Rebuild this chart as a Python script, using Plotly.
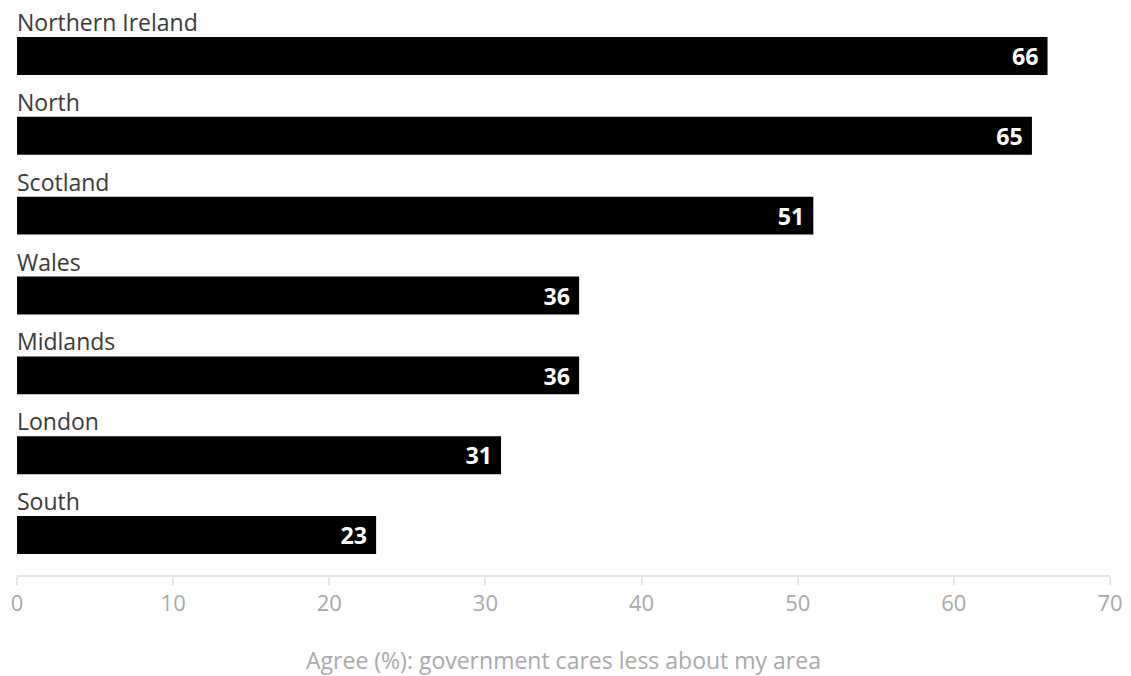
import plotly.graph_objects as go

regions = ["Northern Ireland", "North", "Scotland", "Wales", "Midlands", "London", "South"]
values = [66, 65, 51, 36, 36, 31, 23]
tick_vals = [0, 10, 20, 30, 40, 50, 60, 70]
axis_title = "Agree (%): government cares less about my area"

FONT = "Open Sans, sans-serif"

fig = go.Figure()
fig.add_trace(go.Bar(
    x=values, y=regions, orientation="h",
    marker=dict(color="#000000", line=dict(width=0)),
    width=0.475,
    text=[str(v) + "\u00a0" for v in values],
    textposition="inside", insidetextanchor="end",
    textfont=dict(color="white", size=24, family=FONT, weight="bold"),
    textangle=0,
    hoverinfo="skip",
))

for r in regions:
    fig.add_annotation(x=0, y=r, xref="x", yref="y", text=r, showarrow=False,
                       xanchor="left", yanchor="middle", yshift=34, xshift=-2,
                       font=dict(size=23, color="#3a3a3a", family=FONT))

fig.update_layout(
    width=1131, height=676,
    margin=dict(l=17, r=21, t=16, b=101),
    paper_bgcolor="white", plot_bgcolor="white",
    showlegend=False,
    uniformtext=dict(mode=None),
    xaxis=dict(range=[0, 70], tickvals=tick_vals, showgrid=False, zeroline=False,
               automargin=False,
               showline=True, linecolor="#e6e6e6", linewidth=2,
               ticks="outside", ticklen=8, tickcolor="#e6e6e6", tickwidth=2,
               tickfont=dict(size=22, color="#aaaaaa", family=FONT),
               title=dict(text=axis_title, font=dict(size=23, color="#aaaaaa", family=FONT), standoff=36)),
    yaxis=dict(categoryorder="array", categoryarray=regions, range=[6.5, -0.5],
               automargin=False,
               showticklabels=False, showgrid=False, zeroline=False, showline=False, ticks=""),
)

fig.write_html("out.html", config={"displayModeBar": False},
               post_script="document.body.style.margin='0px';")
